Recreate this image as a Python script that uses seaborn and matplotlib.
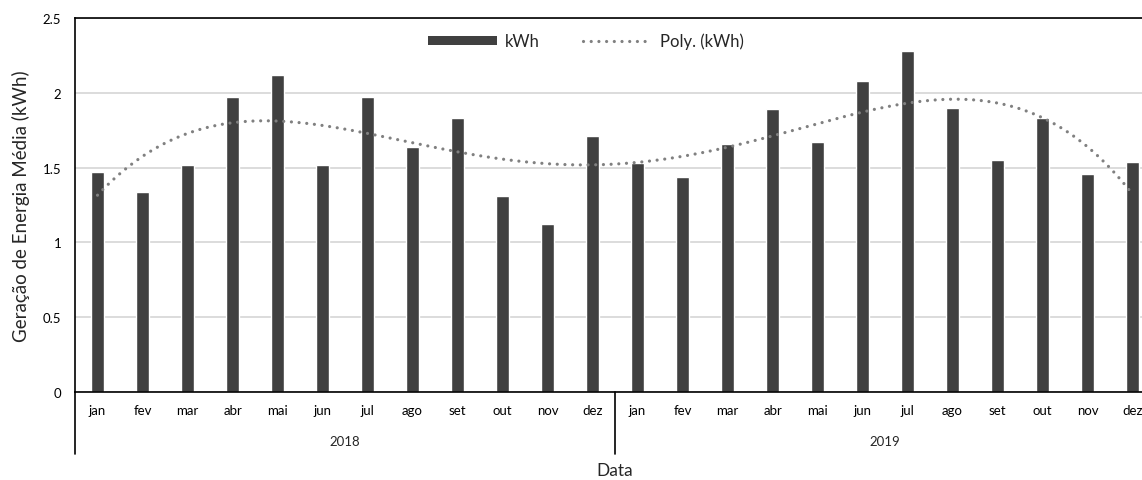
import numpy as np
import pandas as pd
import matplotlib
matplotlib.use("Agg")
import matplotlib.pyplot as plt
from matplotlib.patches import Patch
from matplotlib.lines import Line2D
import seaborn as sns

# Monthly average energy generation, 2018-2019
months = ["jan", "fev", "mar", "abr", "mai", "jun", "jul", "ago", "set", "out", "nov", "dez"]
years = ["2018", "2019"]
kwh_2018 = [1.47, 1.34, 1.52, 1.97, 2.12, 1.52, 1.97, 1.64, 1.83, 1.31, 1.12, 1.71]
kwh_2019 = [1.53, 1.44, 1.66, 1.89, 1.67, 2.08, 2.28, 1.90, 1.55, 1.83, 1.46, 1.54]
y_ticks = [0, 0.5, 1, 1.5, 2, 2.5]
y_tick_labels = ["0", "0.5", "1", "1.5", "2", "2.5"]
trend_order = 4

sns.set_theme(style="white")
plt.rcParams["font.family"] = ["Lato", "DejaVu Sans"]

df = pd.DataFrame({
    "periodo": [f"{y}-{m}" for y in years for m in months],
    "mes": months * 2,
    "kWh": kwh_2018 + kwh_2019,
})

W, H = 1142, 481
fig = plt.figure(figsize=(W / 100, H / 100), dpi=100)
ax = fig.add_axes([75 / W, 1 - 393 / H, 1080 / W, 374 / H])

bar_color = "#404040"
sns.barplot(data=df, x="periodo", y="kWh", color=bar_color, width=0.31,
            saturation=1, ax=ax, errorbar=None)

# Polynomial trend of the monthly values
xs = np.arange(len(df))
coef = np.polyfit(xs + 1, df["kWh"].to_numpy(), trend_order)
xf = np.linspace(0, len(df) - 1, 400)
trend = pd.DataFrame({"x": xf, "y": np.polyval(coef, xf + 1)})
dots = (0, (0.01, 2.4))
sns.lineplot(data=trend, x="x", y="y", ax=ax, color="#808080", lw=2.3,
             linestyle=dots, dash_capstyle="round")

ax.set_xlim(-0.5, len(df) - 0.5)
ax.set_ylim(0, 2.5)
ax.set_yticks(y_ticks)
ax.set_yticklabels(y_tick_labels)
ax.set_xticks(xs)
ax.set_xticklabels(df["mes"])
ax.tick_params(axis="both", length=0, labelsize=9.5, colors="#000000")
ax.tick_params(axis="x", pad=9)
ax.tick_params(axis="y", pad=10)

ax.grid(axis="y", color="#d9d9d9", lw=1.3)
ax.set_axisbelow(True)
for side in ["left", "bottom", "top"]:
    ax.spines[side].set_visible(True)
    ax.spines[side].set_color("#000000")
    ax.spines[side].set_linewidth(1.2)
ax.spines["right"].set_visible(False)

# Year grouping: separators and labels below the month names
xt = ax.get_xaxis_transform()
for b in [-0.5, 11.5, 23.5]:
    ax.plot([b, b], [0, -0.166], transform=xt, color="#000000", lw=1.2, clip_on=False)
for i, yr in enumerate(years):
    ax.text(i * 12 + 5.5, -0.131, yr, transform=xt, ha="center", va="center", fontsize=9.5)

ax.set_xlabel("Data", fontsize=12.5, labelpad=33)
ax.set_ylabel("Geração de Energia Média (kWh)", fontsize=13.5, labelpad=9)

handles = [Patch(facecolor=bar_color, edgecolor="none", label="kWh"),
           Line2D([0], [0], color="#808080", lw=2.3, linestyle=dots,
                  dash_capstyle="round", label="Poly. (kWh)")]
fig.legend(handles=handles, loc="center", bbox_to_anchor=(586 / W, 1 - 42 / H),
           ncol=2, frameon=False, fontsize=12, handlelength=4.1, handleheight=0.45,
           handletextpad=0.5, columnspacing=2.6)

fig.savefig("out.png", dpi=100)
